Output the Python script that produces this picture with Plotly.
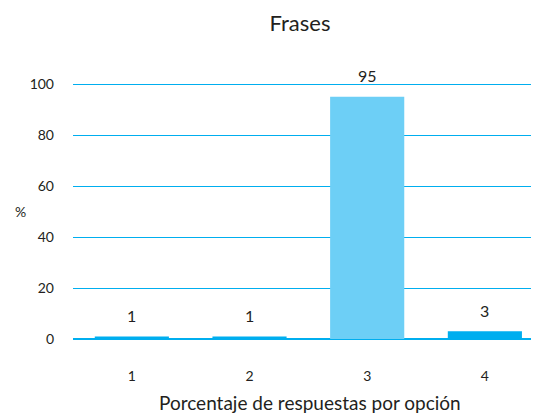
import plotly.graph_objects as go

categories = ["1", "2", "3", "4"]
values = [1, 1, 95, 3]
bar_colors = ["#00aeef", "#00aeef", "#6dcff6", "#00aeef"]
y_ticks = [0, 20, 40, 60, 80, 100]

FONT = "Lato"
TXT = "#231f20"

# page body has an 8px margin, so figure coords = page coords - 8
W, H = 531, 408
L, R, T, B = 65, 0, 73, 77
plot_w = W - L - R
plot_h = H - T - B

fig = go.Figure()
fig.add_trace(go.Bar(
    x=categories, y=values,
    marker=dict(color=bar_colors, line=dict(width=0)),
    width=0.63,
))

def px_x(x):
    return (x - L) / plot_w

def px_y(y):
    return (H - B - y) / plot_h

annotations = [
    dict(text="%", x=px_x(12), y=px_y(203), xref="paper", yref="paper",
         xanchor="center", yanchor="middle", showarrow=False,
         font=dict(family=FONT, size=14, color=TXT)),
    dict(text="Porcentaje de respuestas por opción", x=px_x(302), y=px_y(394),
         xref="paper", yref="paper", xanchor="center", yanchor="middle",
         showarrow=False, font=dict(family=FONT, size=19, color=TXT)),
]
# value labels placed through the category axis (by category index)
for i, v in enumerate(values):
    annotations.append(dict(
        text=str(v), x=i, y=v, xref="x", yref="y",
        xanchor="center", yanchor="middle", yshift=21, showarrow=False,
        font=dict(family=FONT, size=16, color=TXT),
    ))

fig.update_layout(
    width=W, height=H,
    margin=dict(l=L, r=R, t=T, b=B, pad=0),
    paper_bgcolor="white", plot_bgcolor="white",
    showlegend=False,
    title=dict(text="Frases", x=292 / W, xanchor="center", xref="container",
               y=1 - 15 / H, yanchor="middle", yref="container",
               font=dict(family=FONT, size=22, color=TXT)),
    xaxis=dict(
        type="category", range=[-0.5, 3.46],
        showgrid=False, showline=False, zeroline=False,
        ticks="", ticklabelstandoff=27,
        tickfont=dict(family=FONT, size=14, color=TXT),
    ),
    yaxis=dict(
        range=[0, 101.2], tickvals=y_ticks,
        showgrid=True, gridcolor="#00aeef", gridwidth=1.3,
        zeroline=True, zerolinecolor="#00aeef", zerolinewidth=2,
        showline=False, ticks="", ticklabelstandoff=18,
        tickfont=dict(family=FONT, size=14, color=TXT),
    ),
    annotations=annotations,
)

fig.write_html("out.html")
